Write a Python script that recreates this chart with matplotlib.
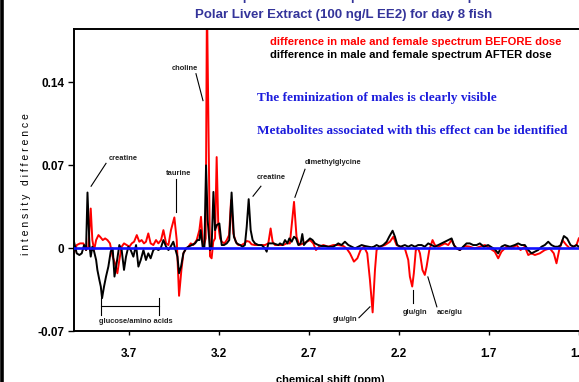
import matplotlib
matplotlib.use("Agg")
import matplotlib.pyplot as plt
from matplotlib.lines import Line2D

# chemical shift (ppm) and intensity difference
before_ppm = [4.006, 3.991, 3.972, 3.954, 3.939, 3.926, 3.913, 3.904, 3.894, 3.883,
              3.870, 3.861, 3.846, 3.833, 3.820, 3.806, 3.791, 3.778, 3.765, 3.754,
              3.741, 3.728, 3.713, 3.698, 3.685, 3.672, 3.657, 3.643, 3.630, 3.617,
              3.606, 3.593, 3.580, 3.565, 3.550, 3.537, 3.522, 3.509, 3.494, 3.481,
              3.467, 3.448, 3.435, 3.422, 3.409, 3.398, 3.383, 3.370, 3.357, 3.343,
              3.324, 3.309, 3.300, 3.291, 3.283, 3.274, 3.267, 3.250, 3.241, 3.232,
              3.222, 3.213, 3.204, 3.194, 3.185, 3.170, 3.157, 3.144, 3.133, 3.120,
              3.107, 3.093, 3.074, 3.059, 3.046, 3.031, 3.019, 3.000, 2.981, 2.944,
              2.926, 2.913, 2.902, 2.889, 2.861, 2.843, 2.824, 2.806, 2.783, 2.769,
              2.754, 2.731, 2.713, 2.694, 2.676, 2.661, 2.643, 2.620, 2.593, 2.565,
              2.537, 2.509, 2.491, 2.472, 2.450, 2.431, 2.413, 2.394, 2.376, 2.361,
              2.346, 2.333, 2.324, 2.306, 2.278, 2.250, 2.231, 2.213, 2.191, 2.167,
              2.148, 2.139, 2.126, 2.117, 2.106, 2.093, 2.083, 2.069, 2.056, 2.046,
              2.031, 2.013, 2.000, 1.981, 1.963, 1.944, 1.926, 1.907, 1.889, 1.861,
              1.833, 1.806, 1.778, 1.750, 1.722, 1.694, 1.667, 1.648, 1.630, 1.602,
              1.574, 1.546, 1.524, 1.500, 1.481, 1.463, 1.444, 1.417, 1.389, 1.361,
              1.339, 1.324, 1.309, 1.291, 1.269, 1.250, 1.231, 1.213, 1.200]
before_val = [-0.0045, 0.0025, 0.0039, 0.0039, -0.0017, 0.0011, 0.0333, 0.0067, -0.0017, 0.0067,
              0.0109, 0.0095, 0.0067, 0.0081, 0.0067, 0.0039, -0.0073, -0.0129, -0.0213, -0.0101,
              0.0011, 0.0039, 0.0025, 0.0011, 0.0039, 0.0053, 0.0109, 0.0053, 0.0067, 0.0039,
              0.0053, 0.0123, 0.0039, 0.0025, 0.0067, 0.0039, 0.0067, 0.0151, 0.0039, 0.0025,
              0.0151, 0.0258, 0.0067, -0.0403, -0.0185, -0.0045, -0.0003, 0.0011, 0.0039, 0.0025,
              0.0067, 0.0151, 0.0263, 0.0067, 0.0025, 0.0081, 0.2100, -0.0070, -0.0087, 0.0053,
              0.0081, 0.0767, 0.0193, 0.0081, 0.0053, 0.0039, 0.0067, 0.0109, 0.0403, 0.0123,
              0.0053, 0.0025, 0.0025, 0.0039, 0.0059, 0.0053, 0.0031, 0.0025, 0.0025, 0.0025,
              0.0039, 0.0165, 0.0053, 0.0025, 0.0025, 0.0025, 0.0039, 0.0039, 0.0389, 0.0095,
              0.0025, 0.0039, 0.0053, 0.0067, 0.0039, -0.0017, 0.0011, 0.0025, 0.0011, 0.0025,
              0.0025, 0.0017, -0.0003, -0.0045, -0.0115, -0.0087, -0.0017, 0.0011, -0.0045, -0.0269,
              -0.0543, -0.0185, -0.0017, 0.0011, 0.0025, 0.0053, 0.0095, 0.0025, 0.0011, -0.0003,
              -0.0101, -0.0241, -0.0325, -0.0213, -0.0017, -0.0003, -0.0045, -0.0185, -0.0227, -0.0157,
              -0.0017, 0.0067, 0.0025, 0.0011, 0.0025, 0.0039, 0.0025, 0.0067, 0.0011, -0.0017,
              0.0017, 0.0011, -0.0003, 0.0011, 0.0025, -0.0003, -0.0031, -0.0087, -0.0031, 0.0011,
              -0.0003, 0.0025, -0.0017, 0.0011, -0.0059, -0.0045, -0.0059, -0.0045, -0.0017, -0.0003,
              -0.0045, -0.0129, -0.0017, 0.0067, 0.0025, -0.0003, 0.0011, 0.0025, 0.0081]

after_ppm = [4.006, 3.991, 3.976, 3.963, 3.950, 3.939, 3.931, 3.920, 3.913, 3.904,
             3.894, 3.883, 3.876, 3.865, 3.857, 3.850, 3.839, 3.828, 3.815, 3.802,
             3.791, 3.781, 3.769, 3.754, 3.741, 3.728, 3.717, 3.704, 3.691, 3.676,
             3.661, 3.648, 3.635, 3.620, 3.606, 3.593, 3.580, 3.565, 3.550, 3.537,
             3.524, 3.509, 3.494, 3.481, 3.469, 3.454, 3.441, 3.431, 3.422, 3.411,
             3.398, 3.383, 3.370, 3.352, 3.333, 3.320, 3.309, 3.302, 3.291, 3.281,
             3.272, 3.263, 3.250, 3.241, 3.231, 3.222, 3.213, 3.198, 3.185, 3.172,
             3.157, 3.143, 3.130, 3.117, 3.102, 3.083, 3.069, 3.056, 3.046, 3.035,
             3.024, 3.013, 3.000, 2.981, 2.963, 2.944, 2.935, 2.926, 2.898, 2.870,
             2.861, 2.846, 2.833, 2.820, 2.809, 2.796, 2.783, 2.772, 2.759, 2.746,
             2.737, 2.728, 2.713, 2.694, 2.680, 2.667, 2.648, 2.630, 2.611, 2.593,
             2.565, 2.550, 2.537, 2.519, 2.500, 2.481, 2.463, 2.444, 2.426, 2.407,
             2.389, 2.370, 2.352, 2.339, 2.324, 2.306, 2.287, 2.268, 2.254, 2.235,
             2.222, 2.209, 2.191, 2.167, 2.148, 2.130, 2.111, 2.093, 2.074, 2.056,
             2.037, 2.019, 2.000, 1.981, 1.963, 1.944, 1.926, 1.907, 1.894, 1.880,
             1.861, 1.843, 1.824, 1.806, 1.787, 1.768, 1.750, 1.728, 1.704, 1.685,
             1.667, 1.648, 1.630, 1.611, 1.583, 1.556, 1.537, 1.519, 1.500, 1.481,
             1.463, 1.444, 1.426, 1.407, 1.389, 1.370, 1.352, 1.333, 1.315, 1.300,
             1.283, 1.265, 1.246, 1.228, 1.213, 1.200]
after_val = [0.0053, -0.0045, -0.0059, -0.0045, 0.0025, -0.0017, 0.0468, 0.0025, -0.0073, 0.0011,
             -0.0031, -0.0101, -0.0185, -0.0269, -0.0325, -0.0423, -0.0325, -0.0241, -0.0157, -0.0031,
             -0.0003, -0.0241, -0.0129, 0.0025, -0.0017, -0.0185, -0.0073, 0.0011, -0.0017, -0.0073,
             0.0025, -0.0157, -0.0101, -0.0017, -0.0101, -0.0045, -0.0087, -0.0017, -0.0003, -0.0017,
             -0.0003, 0.0067, 0.0011, -0.0017, 0.0011, 0.0053, -0.0017, -0.0073, -0.0213, -0.0157,
             -0.0045, -0.0003, 0.0011, 0.0025, 0.0039, 0.0067, 0.0067, 0.0151, 0.0011, 0.0011,
             0.0697, 0.0235, -0.0017, 0.0011, 0.0473, 0.0151, 0.0193, 0.0207, 0.0025, 0.0025,
             0.0039, 0.0067, 0.0468, 0.0095, 0.0039, 0.0025, 0.0011, 0.0025, 0.0179, 0.0412,
             0.0151, 0.0067, 0.0039, 0.0025, 0.0025, -0.0003, -0.0031, 0.0039, 0.0039, 0.0025,
             0.0039, 0.0025, 0.0067, 0.0039, 0.0081, 0.0053, 0.0095, 0.0081, 0.0025, 0.0039,
             0.0118, 0.0025, 0.0053, 0.0081, 0.0067, 0.0039, 0.0025, 0.0017, 0.0017, 0.0011,
             0.0011, 0.0025, 0.0039, 0.0025, 0.0053, 0.0025, 0.0011, -0.0003, 0.0011, 0.0025,
             0.0017, 0.0011, 0.0006, 0.0011, 0.0025, 0.0011, 0.0025, 0.0053, 0.0095, 0.0146,
             0.0095, 0.0025, 0.0011, 0.0025, 0.0011, 0.0025, 0.0011, 0.0025, 0.0025, 0.0011,
             0.0039, 0.0025, 0.0011, 0.0025, 0.0039, 0.0053, 0.0067, 0.0081, 0.0025, -0.0003,
             -0.0017, 0.0011, 0.0039, 0.0039, 0.0025, 0.0025, 0.0039, 0.0011, 0.0025, 0.0006,
             -0.0011, -0.0045, 0.0011, 0.0025, 0.0011, 0.0025, 0.0039, 0.0025, 0.0025, -0.0017,
             -0.0045, -0.0031, -0.0017, 0.0011, 0.0025, 0.0053, 0.0025, 0.0011, 0.0011, 0.0025,
             0.0101, 0.0081, 0.0025, 0.0011, 0.0025, 0.0011]

x_ticks = [3.7, 3.2, 2.7, 2.2, 1.7, 1.2]
y_ticks = [-0.07, 0, 0.07, 0.14]
y_tick_labels = ["-0.07", "0", "0.07", "0.14"]

# peak labels: text, text centre, pointer line start, pointer line end
peak_labels = [
    ("choline", (3.389, 0.1512), (3.328, 0.147), (3.289, 0.1243)),
    ("creatine", (3.731, 0.0756), (3.828, 0.0714), (3.911, 0.0521)),
    ("taurine", (3.422, 0.0630), (3.439, 0.0580), (3.439, 0.0302)),
    ("creatine", (2.908, 0.0596), (2.967, 0.0521), (3.011, 0.0437)),
    ("dimethylglycine", (2.564, 0.0722), (2.722, 0.0664), (2.778, 0.0428)),
    ("glu/gln", (2.500, -0.0605), (2.422, -0.0588), (2.361, -0.0496)),
    ("glu/gln", (2.111, -0.0546), (2.122, -0.0353), (2.122, -0.0462)),
    ("ace/glu", (1.917, -0.0546), (2.039, -0.0244), (1.989, -0.0496)),
]

title_color = "#34349a"
note_color = "#1c1cdc"

plt.rcParams['font.family'] = ['Liberation Sans', 'DejaVu Sans']

fig = plt.figure(figsize=(5.79, 3.82), dpi=100)
ax = fig.add_axes([0.1278, 0.1335, 0.934, 0.7893])

ax.plot(before_ppm, before_val, color="#ff0000", lw=1.4, zorder=2)
ax.plot(after_ppm, after_val, color="black", lw=1.4, zorder=3)
ax.axhline(0, color="#1010ff", lw=1.9, zorder=4)

ax.set_xlim(4.006, 1.0)
ax.set_ylim(-0.07, 0.1843)
ax.set_xticks(x_ticks)
ax.set_xticklabels([str(t) for t in x_ticks], fontsize=8.5, fontweight="bold")
ax.set_yticks(y_ticks)
ax.set_yticklabels(y_tick_labels, fontsize=8.5, fontweight="bold")
ax.tick_params(axis="x", direction="out", length=3, width=1, pad=9)
ax.tick_params(axis="y", direction="out", length=4, width=1, pad=3)
for s in ax.spines.values():
    s.set_linewidth(1.4)

for text, txy, p0, p1 in peak_labels:
    ax.text(txy[0], txy[1], text, fontsize=5.4, fontweight="bold", color="#222222",
            ha="center", va="center")
    ax.plot([p0[0], p1[0]], [p0[1], p1[1]], color="black", lw=0.8)

# glucose/amino acids bracket
ax.plot([3.856, 3.533], [-0.0487, -0.0487], color="black", lw=0.8)
ax.plot([3.856, 3.856], [-0.042, -0.0565], color="black", lw=0.8)
ax.plot([3.533, 3.533], [-0.042, -0.0565], color="black", lw=0.8)
ax.text(3.661, -0.0622, "glucose/amino acids", fontsize=5.4, fontweight="bold",
        color="#222222", ha="center", va="center")

# legend-like text
ax.text(0.362, 0.9585, "difference in male and female spectrum BEFORE dose", transform=ax.transAxes,
        fontsize=8.1, fontweight="bold", color="#ff0000", va="center")
ax.text(0.362, 0.9154, "difference in male and female spectrum AFTER dose", transform=ax.transAxes,
        fontsize=8.1, fontweight="bold", color="black", va="center")

ax.text(0.338, 0.772, "The feminization of males is clearly visible", transform=ax.transAxes,
        fontsize=9.5, fontweight="bold", color=note_color, va="center", family="Liberation Serif")
ax.text(0.338, 0.662, "Metabolites associated with this effect can be identified", transform=ax.transAxes,
        fontsize=9.5, fontweight="bold", color=note_color, va="center", family="Liberation Serif")

ax.set_xlabel("chemical shift (ppm)", fontsize=8, fontweight="bold")
ax.xaxis.set_label_coords(0.473, -0.145)
ax.set_ylabel("i n t e n s i t y   d i f f e r e n c e", fontsize=7.5)
ax.yaxis.set_label_coords(-0.0786, 0.487)

fig.text(0.593, 1.009, "Difference spectrum = male spectrum - female spectrum", fontsize=9.5,
         fontweight="bold", color=title_color, ha="center", va="center")
fig.text(0.593, 0.961, "Polar Liver Extract (100 ng/L EE2) for day 8 fish", fontsize=9.5,
         fontweight="bold", color=title_color, ha="center", va="center")

# thick frame line on the left edge
fig.add_artist(Line2D([0.004, 0.004], [0, 1], color="black", lw=2.6, transform=fig.transFigure))

fig.savefig("out.png", dpi=100)
